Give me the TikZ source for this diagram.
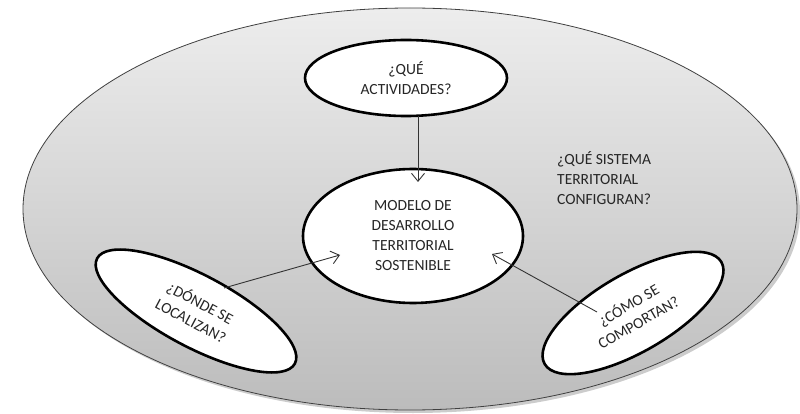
\documentclass[tikz,border=0pt]{standalone}
\usepackage{fontspec}
\setmainfont{Carlito}
\usetikzlibrary{shapes.geometric,arrows.meta,shadows}
\definecolor{outtop}{HTML}{EDEDED}
\definecolor{outbot}{HTML}{BCBCBC}
\begin{document}
\begin{tikzpicture}[x=1pt,y=-1pt,
  bubble/.style={ellipse,draw=black,line width=2.6pt,fill=white,inner sep=0pt,
    align=center,font=\fontsize{15.5}{20}\selectfont,text=black!85},
  arr/.style={draw=black!80,line width=0.9pt,
    -{Straight Barb[length=8pt,width=13pt,line width=0.9pt]}},
  note/.style={align=left,inner sep=0pt,font=\fontsize{15.5}{20}\selectfont,text=black!85}
  ]
\useasboundingbox (0,0) rectangle (800,414);
\node[ellipse,minimum width=774pt,minimum height=402pt,draw=black!75,line width=0.8pt,
  top color=outtop,bottom color=outbot,
  drop shadow={shadow xshift=3pt,shadow yshift=-3pt,fill=black,opacity=0.2}] (outer) at (410,209) {};
\node[bubble,minimum width=202pt,minimum height=76pt] (top) at (406,78) {¿QUÉ\\ACTIVIDADES?};
\node[bubble,minimum width=220pt,minimum height=134pt] (center) at (413,236)
  {MODELO DE\\DESARROLLO\\TERRITORIAL\\SOSTENIBLE};
\node[bubble,minimum width=224pt,minimum height=72pt,rotate=-28] (where) at (196,311)
  {¿DÓNDE SE\\LOCALIZAN?};
\node[bubble,minimum width=204pt,minimum height=78pt,rotate=30] (how) at (633,313)
  {¿CÓMO SE\\COMPORTAN?};
\node[note,anchor=west] (system) at (557,178) {¿QUÉ SISTEMA\\TERRITORIAL\\CONFIGURAN?};
\coordinate (a1s) at (418,116);
\coordinate (a1e) at (418,182);
\coordinate (a2s) at (224,288);
\coordinate (a2e) at (340,255);
\coordinate (a3s) at (597,312);
\coordinate (a3e) at (492,254);
\draw[arr] (a1s) -- (a1e);
\draw[arr] (a2s) -- (a2e);
\draw[arr] (a3s) -- (a3e);
\end{tikzpicture}
\end{document}
